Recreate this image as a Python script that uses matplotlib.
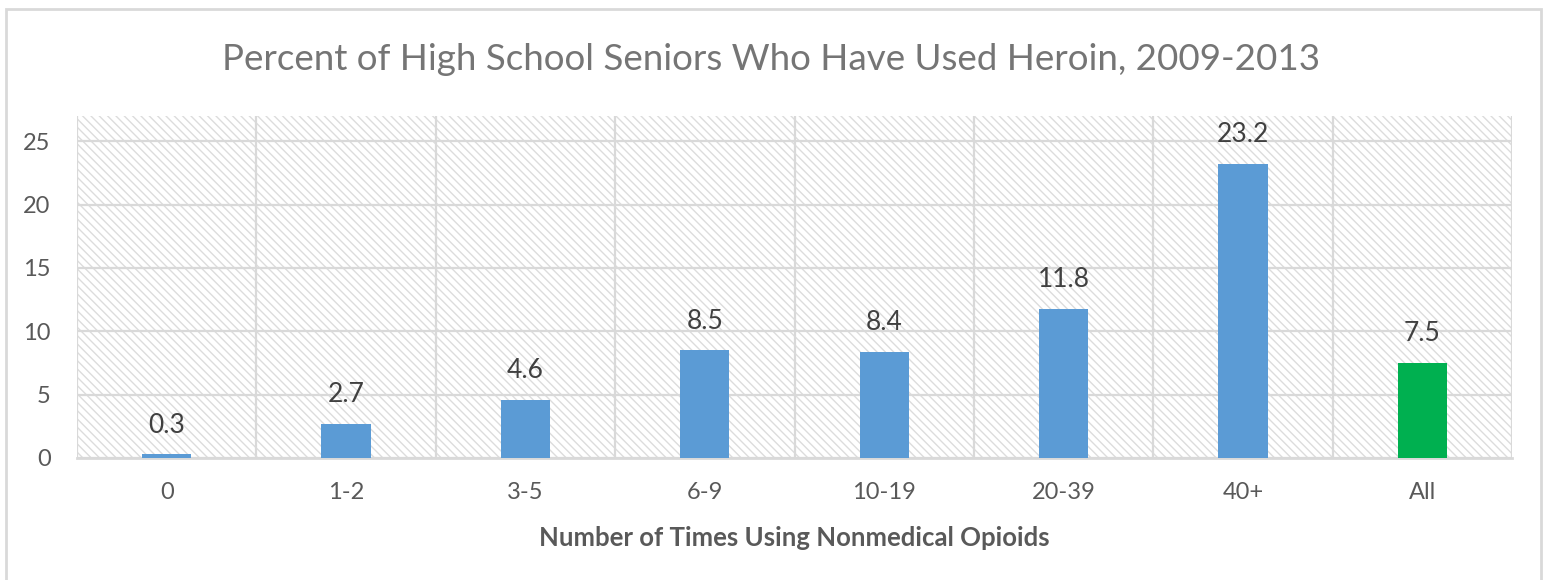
import matplotlib
matplotlib.use("Agg")
import matplotlib.pyplot as plt
from matplotlib.patches import Rectangle
import numpy as np

plt.rcParams['font.family'] = ['Lato', 'DejaVu Sans']
plt.rcParams['hatch.linewidth'] = 1.0
plt.rcParams['hatch.color'] = '#dcdcdc'

categories = ["0", "1-2", "3-5", "6-9", "10-19", "20-39", "40+", "All"]
values = [0.3, 2.7, 4.6, 8.5, 8.4, 11.8, 23.2, 7.5]
bar_colors = ["#5b9bd5"] * 7 + ["#00b050"]
yticks = [0, 5, 10, 15, 20, 25]

fig = plt.figure(figsize=(15.43, 5.8), dpi=100)
fig.patch.set_facecolor("white")

# outer chart border
fig.add_artist(Rectangle((6 / 1543, -0.01), 1535 / 1543, 1.01 - 9 / 580,
                         transform=fig.transFigure, fill=False,
                         edgecolor="#d9d9d9", linewidth=2))

ax = fig.add_axes([77 / 1543, 122 / 580, 1435 / 1543, 342 / 580])
x = np.arange(len(categories))
ax.set_xlim(-0.5, len(categories) - 0.5)
ax.set_ylim(0, 27)

# hatched plot area background
ax.add_patch(Rectangle((0, 0), 1, 1, transform=ax.transAxes, facecolor="white",
                       edgecolor="#dcdcdc", hatch="\\\\\\\\", linewidth=0, zorder=0))

bars = ax.bar(x, values, width=0.275, color=bar_colors, zorder=3)
for xi, v in zip(x, values):
    ax.annotate(f"{v}", (xi, v), xytext=(0, 12), textcoords="offset points",
                ha="center", va="bottom", fontsize=19, color="#404040", zorder=4)

ax.set_yticks(yticks)
ax.set_xticks(x)
ax.set_xticklabels(categories)
ax.set_xticks(np.arange(-0.5, len(categories)), minor=True)
ax.grid(axis="y", which="major", color="#d9d9d9", linewidth=1.6, zorder=1)
ax.grid(axis="x", which="minor", color="#d9d9d9", linewidth=1.6, zorder=1)
ax.grid(axis="x", which="major", visible=False)
ax.set_axisbelow(True)

for s in ["top", "right", "left"]:
    ax.spines[s].set_visible(False)
ax.spines["bottom"].set_color("#d9d9d9")
ax.spines["bottom"].set_linewidth(2)

ax.tick_params(axis="both", which="both", length=0)
ax.tick_params(axis="y", labelsize=17, labelcolor="#595959", pad=19)
ax.tick_params(axis="x", labelsize=17, labelcolor="#595959", pad=17)

ax.set_xlabel("Number of Times Using Nonmedical Opioids", fontsize=18.5,
              fontweight="bold", color="#595959", labelpad=17)
fig.text(0.5, 1 - 60 / 580, "Percent of High School Seniors Who Have Used Heroin, 2009-2013",
         ha="center", va="center", fontsize=26.5, color="#757575")

fig.savefig("out.png", dpi=100)
